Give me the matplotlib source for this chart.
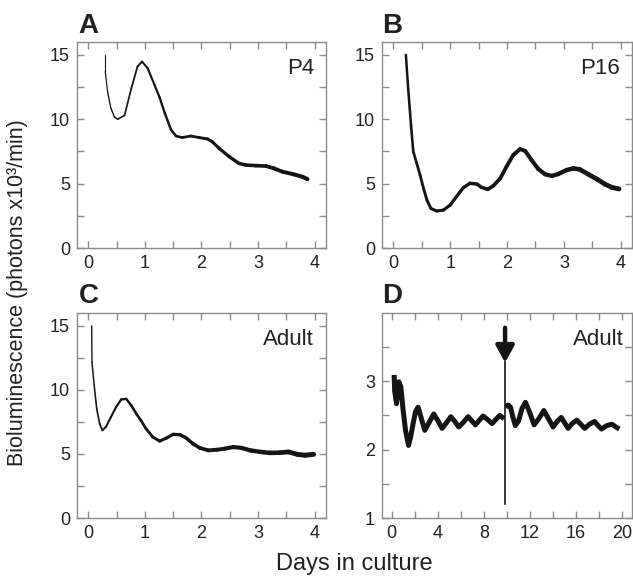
import matplotlib.pyplot as plt
import numpy as np
from matplotlib.collections import LineCollection
from matplotlib.ticker import MultipleLocator

plt.rcParams['font.family'] = ['Liberation Sans', 'DejaVu Sans']

# panel A, P4
a_days = [0.30, 0.30, 0.34, 0.40, 0.46, 0.52, 0.64, 0.76, 0.87, 0.95, 1.05, 1.17, 1.26,
          1.35, 1.46, 1.55, 1.66, 1.81, 1.96, 2.11, 2.19, 2.31, 2.49, 2.66, 2.78,
          2.96, 3.14, 3.28, 3.43, 3.61, 3.78, 3.87]
a_lum = [15.0, 13.7, 12.15, 10.85, 10.2, 10.0, 10.3, 12.4, 14.1, 14.48, 13.96, 12.67, 11.7,
         10.5, 9.2, 8.7, 8.58, 8.7, 8.58, 8.47, 8.26, 7.75, 7.1, 6.58, 6.45,
         6.4, 6.37, 6.19, 5.93, 5.75, 5.54, 5.36]

# panel B, P16
b_days = [0.22, 0.26, 0.31, 0.35, 0.41, 0.47, 0.53, 0.59, 0.66, 0.76, 0.88, 1.00, 1.11,
          1.23, 1.35, 1.47, 1.55, 1.66, 1.76, 1.88, 1.99, 2.11, 2.23, 2.32, 2.43, 2.55,
          2.67, 2.79, 2.90, 3.05, 3.17, 3.28, 3.43, 3.58, 3.72, 3.84, 3.97]
b_lum = [15.0, 12.4, 9.56, 7.5, 6.6, 5.67, 4.64, 3.73, 3.08, 2.88, 2.95, 3.34, 3.99,
         4.69, 5.03, 4.97, 4.72, 4.56, 4.84, 5.41, 6.32, 7.23, 7.69, 7.54, 6.84, 6.14,
         5.73, 5.6, 5.75, 6.06, 6.19, 6.11, 5.73, 5.36, 4.97, 4.72, 4.59]

# panel C, adult
c_days = [0.06, 0.065, 0.11, 0.15, 0.20, 0.25, 0.31, 0.40, 0.49, 0.58, 0.67, 0.76, 0.85,
          0.93, 1.02, 1.14, 1.26, 1.38, 1.50, 1.62, 1.73, 1.85, 1.97, 2.12, 2.27, 2.41,
          2.56, 2.71, 2.86, 3.04, 3.21, 3.39, 3.54, 3.69, 3.83, 3.98]
c_lum = [15.0, 12.15, 10.1, 8.5, 7.36, 6.84, 7.1, 7.88, 8.65, 9.25, 9.3, 8.78, 8.13,
         7.62, 6.97, 6.32, 6.0, 6.24, 6.53, 6.5, 6.24, 5.8, 5.47, 5.28, 5.33, 5.41,
         5.54, 5.47, 5.28, 5.16, 5.08, 5.1, 5.16, 4.97, 4.9, 4.97]

# panel D, adult long recording, before and after the arrow
d1_days = [0.20, 0.25, 0.41, 0.61, 0.78, 0.98, 1.19, 1.45, 1.65, 1.85, 2.05, 2.28, 2.57,
           2.86, 3.25, 3.64, 4.00, 4.36, 4.74, 5.12, 5.47, 5.81, 6.22, 6.62, 6.94, 7.26,
           7.60, 7.92, 8.30, 8.70, 9.03, 9.37, 9.74]
d1_lum = [3.09, 2.85, 2.67, 2.99, 2.92, 2.58, 2.28, 2.06, 2.20, 2.38, 2.55, 2.62, 2.45,
          2.28, 2.40, 2.52, 2.42, 2.31, 2.39, 2.48, 2.41, 2.33, 2.40, 2.48, 2.42, 2.36,
          2.43, 2.49, 2.44, 2.38, 2.44, 2.50, 2.45]
d2_days = [9.88, 10.10, 10.30, 10.50, 10.72, 11.00, 11.30, 11.60, 11.95, 12.35, 12.75,
           13.20, 13.60, 14.00, 14.35, 14.70, 15.00, 15.30, 15.65, 16.05, 16.40, 16.74,
           17.15, 17.60, 17.90, 18.20, 18.65, 19.10, 19.45, 19.75]
d2_lum = [2.62, 2.65, 2.62, 2.48, 2.35, 2.42, 2.60, 2.69, 2.55, 2.36, 2.45,
          2.57, 2.45, 2.33, 2.41, 2.47, 2.39, 2.31, 2.38, 2.43, 2.37, 2.31,
          2.37, 2.41, 2.35, 2.30, 2.35, 2.37, 2.33, 2.30]
arrow_day = 9.83

grey = '#8a8a8a'
txt = '#222222'
ink = '#151515'


def trace(ax, x, y, w0, w1):
    pts = np.column_stack([x, y]).reshape(-1, 1, 2)
    segs = np.concatenate([pts[:-1], pts[1:]], axis=1)
    lw = np.linspace(w0, w1, len(segs))
    lc = LineCollection(segs, linewidths=lw, colors=ink, capstyle='round',
                        joinstyle='round')
    ax.add_collection(lc)


def style(ax, xmaj, xmin, ymaj, ymin):
    ax.xaxis.set_major_locator(MultipleLocator(xmaj))
    ax.xaxis.set_minor_locator(MultipleLocator(xmin))
    ax.yaxis.set_major_locator(MultipleLocator(ymaj))
    ax.yaxis.set_minor_locator(MultipleLocator(ymin))
    for which in ('major', 'minor'):
        ax.tick_params(which=which, direction='in', length=5, width=1, color=grey,
                       top=True, right=True, labelsize=13, labelcolor=txt, pad=5)
    for s in ax.spines.values():
        s.set_color(grey)
        s.set_linewidth(1)


fig = plt.figure(figsize=(6.33, 5.81), dpi=100)
axA = fig.add_axes([0.1216, 0.573, 0.3934, 0.3547])
axB = fig.add_axes([0.6035, 0.573, 0.3950, 0.3547])
axC = fig.add_axes([0.1216, 0.1084, 0.3934, 0.3529])
axD = fig.add_axes([0.6035, 0.1084, 0.3950, 0.3529])

trace(axA, a_days, a_lum, 0.8, 3.0)
trace(axB, b_days, b_lum, 1.8, 3.5)
trace(axC, c_days, c_lum, 1.0, 3.6)
axD.plot(d1_days, d1_lum, color=ink, lw=3.6, solid_joinstyle='round',
         solid_capstyle='butt')
axD.plot(d2_days, d2_lum, color=ink, lw=3.6, solid_joinstyle='round',
         solid_capstyle='butt')

axD.plot([arrow_day, arrow_day], [1.2, 3.3], color=ink, lw=1.2)
axD.annotate('', xy=(arrow_day, 3.27), xytext=(arrow_day, 3.78),
             arrowprops=dict(arrowstyle='-|>,head_length=1.0,head_width=0.55',
                             color=ink, lw=3.2, shrinkA=0, shrinkB=0))

for ax in (axA, axB, axC):
    ax.set_xlim(-0.2, 4.2)
    ax.set_ylim(0, 16)
    style(ax, 1, 0.5, 5, 2.5)
axD.set_xlim(-0.85, 20.85)
axD.set_ylim(1, 3.995)
style(axD, 4, 2, 1, 0.5)

for ax, lab, xx in ((axA, 'P4', 0.952), (axB, 'P16', 0.952),
                    (axC, 'Adult', 0.952), (axD, 'Adult', 0.967)):
    ax.text(xx, 0.843, lab, transform=ax.transAxes, ha='right', va='baseline',
            fontsize=16, color=txt)

for lab, x, y in (('A', 0.124, 0.943), ('B', 0.604, 0.943),
                  ('C', 0.124, 0.4785), ('D', 0.604, 0.4785)):
    fig.text(x, y, lab, fontsize=20, fontweight='bold', color=txt, va='baseline')

fig.text(0.028, 0.496, 'Bioluminescence (photons x10³/min)', rotation=90,
         ha='center', va='center', fontsize=15.5, color=txt)
fig.text(0.56, 0.03, 'Days in culture', ha='center', va='center', fontsize=17,
         color=txt)

fig.savefig('out.png', dpi=100)
